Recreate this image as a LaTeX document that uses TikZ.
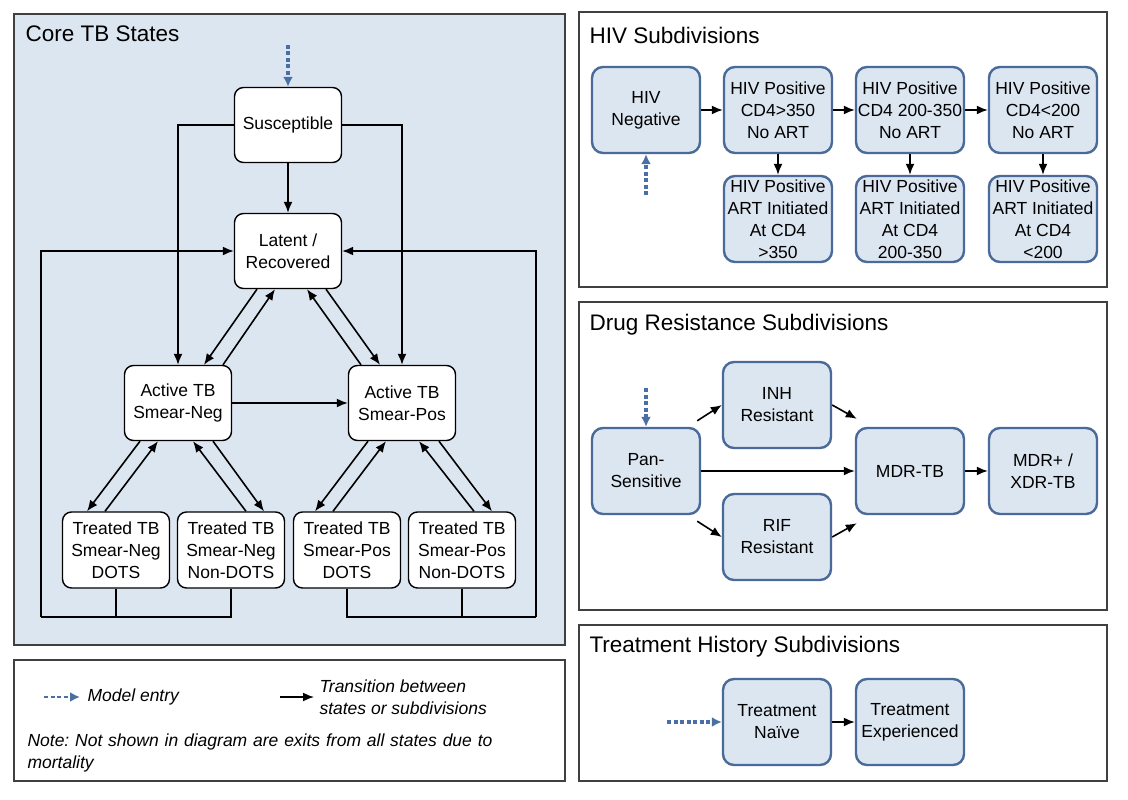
\documentclass[tikz,border=0pt]{standalone}
\usepackage{fontspec}
\setmainfont{Liberation Sans}
\frenchspacing
\usetikzlibrary{arrows.meta,calc}
\definecolor{panelbg}{HTML}{DCE6F1}
\definecolor{boxbd}{HTML}{4A6A9A}
\definecolor{entry}{HTML}{4A6FA5}
\begin{document}
\begin{tikzpicture}[x=1pt,y=-1pt,
  every node/.style={font=\fontsize{17.5}{22}\selectfont},
  panel/.style={draw=black!75,line width=1.2pt},
  title/.style={anchor=west,font=\fontsize{22.5}{26}\selectfont},
  core/.style={draw=black,fill=white,rounded corners=9pt,line width=1.4pt,align=center,minimum width=107pt,minimum height=75pt,inner sep=1pt},
  sub/.style={draw=boxbd,fill=panelbg,rounded corners=11pt,line width=2.4pt,align=center,minimum width=108pt,minimum height=86pt,inner sep=1pt},
  arr/.style={-{Latex[length=11pt,width=9pt]},line width=1.6pt},
  ln/.style={line width=1.6pt},
  ent/.style={-{Latex[length=10pt,width=10pt]},draw=entry,line width=3.2pt,dash pattern=on 4pt off 2.5pt},
  lab/.style={anchor=west,font=\fontsize{17.5}{22}\selectfont\itshape,align=left}]
\useasboundingbox (0,0) rectangle (1128,800);
\fill[white] (0,0) rectangle (1128,800);
% panels
\draw[panel,fill=panelbg] (14,14) rectangle (565,645);
\node[title] (t1) at (22,34) {Core TB States};
\draw[panel] (14,660) rectangle (565,781);
\draw[panel] (579,12) rectangle (1107,287);
\node[title] (t2) at (586,35) {HIV Subdivisions};
\draw[panel] (579,302) rectangle (1107,610);
\node[title] (t3) at (586,325) {Drug Resistance Subdivisions};
\draw[panel] (579,625) rectangle (1107,781);
\node[title] (t4) at (586,647) {Treatment History Subdivisions};
% core nodes
\node[core] (sus) at (288,125) {Susceptible};
\node[core] (lat) at (288,251) {Latent /\\Recovered};
\node[core] (neg) at (178,403) {Active TB\\Smear-Neg};
\node[core] (pos) at (402,403) {Active TB\\Smear-Pos};
\node[core,minimum height=76pt] (d1) at (116,550) {Treated TB\\Smear-Neg\\DOTS};
\node[core,minimum height=76pt] (d2) at (231,550) {Treated TB\\Smear-Neg\\Non-DOTS};
\node[core,minimum height=76pt] (d3) at (347,550) {Treated TB\\Smear-Pos\\DOTS};
\node[core,minimum height=76pt] (d4) at (462,550) {Treated TB\\Smear-Pos\\Non-DOTS};
\coordinate (e1) at (288,45);
\draw[ent] (e1) -- (sus.north);
\draw[arr] (sus.south) -- (lat.north);
\draw[arr] (sus.west) -| (neg.north);
\draw[arr] (sus.east) -| (pos.north);
\draw[arr] (neg.east) -- (pos.west);
\draw[arr] ([xshift=-31pt]lat.south) -- ([xshift=26pt]neg.north);
\draw[arr] ([xshift=45pt]neg.north) -- ([xshift=-13pt]lat.south);
\draw[arr] ([xshift=-41pt]pos.north) -- ([xshift=19pt]lat.south);
\draw[arr] ([xshift=38pt]lat.south) -- ([xshift=-22pt]pos.north);
\draw[arr] ([xshift=-38pt]neg.south) -- ([xshift=-29pt]d1.north);
\draw[arr] ([xshift=-11pt]d1.north) -- ([xshift=-20pt]neg.south);
\draw[arr] ([xshift=15pt]d2.north) -- ([xshift=15pt]neg.south);
\draw[arr] ([xshift=35pt]neg.south) -- ([xshift=33pt]d2.north);
\draw[arr] ([xshift=-34pt]pos.south) -- ([xshift=-32pt]d3.north);
\draw[arr] ([xshift=-14pt]d3.north) -- ([xshift=-16pt]pos.south);
\draw[arr] ([xshift=12pt]d4.north) -- ([xshift=17pt]pos.south);
\draw[arr] ([xshift=37pt]pos.south) -- ([xshift=30pt]d4.north);
% feedback
\coordinate (bl) at (41,617);
\coordinate (br) at (536,617);
\draw[ln] (d1.south) -- (d1.south |- bl);
\draw[ln] (d2.south) -- (d2.south |- bl) -- (bl);
\draw[arr] (bl) |- (lat.west);
\draw[ln] (d4.south) -- (d4.south |- br);
\draw[ln] (d3.south) -- (d3.south |- br) -- (br);
\draw[arr] (br) |- (lat.east);
% HIV
\node[sub] (h0) at (646,110) {HIV\\Negative};
\node[sub] (h1) at (778,110) {HIV Positive\\CD4>350\\No ART};
\node[sub] (h2) at (910,110) {HIV Positive\\CD4 200-350\\No ART};
\node[sub] (h3) at (1043,110) {HIV Positive\\CD4<200\\No ART};
\node[sub] (a1) at (778,219) {HIV Positive\\ART Initiated\\At CD4\\>350};
\node[sub] (a2) at (910,219) {HIV Positive\\ART Initiated\\At CD4\\200-350};
\node[sub] (a3) at (1043,219) {HIV Positive\\ART Initiated\\At CD4\\<200};
\draw[arr] (h0) -- (h1);
\draw[arr] (h1) -- (h2);
\draw[arr] (h2) -- (h3);
\draw[arr] (h1) -- (a1);
\draw[arr] (h2) -- (a2);
\draw[arr] (h3) -- (a3);
\coordinate (e2) at (646,195);
\draw[ent] (e2) -- (h0.south);
% drug
\node[sub] (pan) at (646,471) {Pan-\\Sensitive};
\node[sub] (inh) at (777,405) {INH\\Resistant};
\node[sub] (rif) at (777,537) {RIF\\Resistant};
\node[sub] (mdr) at (910,471) {MDR-TB};
\node[sub] (xdr) at (1043,471) {MDR+ /\\XDR-TB};
\coordinate (e3) at (646,388);
\draw[ent] (e3) -- (pan.north);
\draw[arr] ([xshift=-4pt,yshift=6pt]pan.north east) -- (inh.west);
\draw[arr] ([xshift=-4pt,yshift=-6pt]pan.south east) -- (rif.west);
\draw[arr] (pan) -- (mdr);
\draw[arr] (inh.east) -- ([xshift=2pt,yshift=8pt]mdr.north west);
\draw[arr] (rif.east) -- ([xshift=2pt,yshift=-8pt]mdr.south west);
\draw[arr] (mdr) -- (xdr);
% treatment
\node[sub] (tn) at (777,722) {Treatment\\Naïve};
\node[sub] (te) at (910,722) {Treatment\\Experienced};
\coordinate (e4) at (667,722);
\draw[ent] (e4) -- (tn.west);
\draw[arr] (tn) -- (te);
% legend
\coordinate (l1) at (44,697);
\coordinate (l2) at (80,697);
\draw[ent,line width=2.6pt] (l1) -- (l2);
\node[lab] (lt1) at (84,697) {Model entry};
\coordinate (l3) at (280,697);
\coordinate (l4) at (314,697);
\draw[arr] (l3) -- (l4);
\node[lab] (lt2) at (316,697) {Transition between\\states or subdivisions};
\node[lab,text width=530pt] (lt3) at (24,753) {Note: Not shown in diagram are exits from all states due to\\mortality};
\end{tikzpicture}
\end{document}
